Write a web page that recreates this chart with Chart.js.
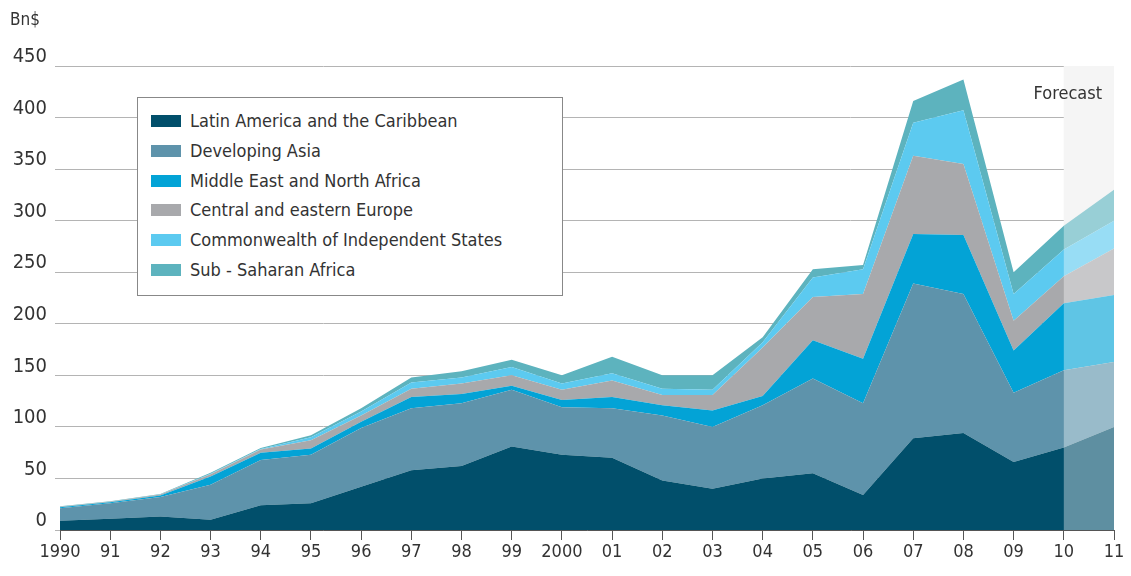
<!DOCTYPE html>
<html>
<head>
<meta charset="utf-8">
<script src="https://cdn.jsdelivr.net/npm/chart.js@4"></script>
<style>
  body { margin: 0; background: #fff; font-family: 'DejaVu Sans Condensed', 'DejaVu Sans', sans-serif; color: #333; }
  .wrap { position: relative; width: 1131px; height: 576px; }
  .unit { position: absolute; left: 10px; top: 9px; font-size: 17px; color: #333; }
  .forecast { position: absolute; right: 29px; top: 82px; font-size: 18px; color: #333; }
  .legend { position: absolute; left: 137px; top: 97px; width: 424px; height: 197px; border: 1px solid #888; background: #fff; }
  .legend div { position: absolute; left: 52px; font-size: 18px; line-height: 20px; white-space: nowrap; }
  .legend span { position: absolute; left: -39px; top: 4px; width: 30px; height: 12px; }
</style>
</head>
<body>
<div class="wrap">
  <canvas id="chart" width="1131" height="576"></canvas>
  <div class="unit">Bn$</div>
  <div class="forecast">Forecast</div>
  <div class="legend" id="legend"></div>
</div>
<script>
var years = ['1990','91','92','93','94','95','96','97','98','99','2000','01','02','03','04','05','06','07','08','09','10','11']

var latAm = [9,11,13,10,24,26,42,58,62,81,73,70,48,40,50,55,34,89,94,66,80,100]
var asia  = [12,15,19,34,44,47,57,60,61,55,46,48,63,60,71,92,89,150,135,67,75,63]
var mena  = [1,1,1.5,8,7,6,6,11,9,4,7,11,10,16,9,37,43,48,57,41,65,65]
var cee   = [0.5,0.5,1,2,3,8,6,8,10,10,10,16,10,15,47,42,63,76,69,29,26,45]
var cis   = [0,0,0,0.5,0.5,3,4,6,6,8,6,7,6,5,5,19,24,32,52,26,26,27]
var ssa   = [0.5,0.5,0.5,1,1,2,3,5,6,7,8,16,13,14,5,8,4,21,30,21,23,30]

var seriesNames = ['Latin America and the Caribbean','Developing Asia','Middle East and North Africa','Central and eastern Europe','Commonwealth of Independent States','Sub-Saharan Africa']
var legendNames = ['Latin America and the Caribbean','Developing Asia','Middle East and North Africa','Central and eastern Europe','Commonwealth of Independent States','Sub - Saharan Africa']
var seriesData = [latAm, asia, mena, cee, cis, ssa]
var colors = ['#014f6b','#5e93ab','#03a3d6','#a8a9ac','#5ccaf0','#5db3be']

var forecastFrom = 20  // index of '10'

// grey band behind the forecast years, white veil over the areas on top
var forecastBand = {
  id: 'forecastBand',
  beforeDatasetsDraw: function(chart){
    var ctx = chart.ctx, a = chart.chartArea
    var x0 = chart.scales.x.getPixelForValue(forecastFrom)
    ctx.save()
    ctx.fillStyle = '#efefef'
    ctx.fillRect(x0, a.top, a.right - x0, a.bottom - a.top)
    ctx.restore()
  },
  afterDatasetsDraw: function(chart){
    var ctx = chart.ctx, a = chart.chartArea
    var x0 = chart.scales.x.getPixelForValue(forecastFrom)
    ctx.save()
    ctx.fillStyle = 'rgba(255,255,255,0.37)'
    ctx.fillRect(x0, a.top, a.right - x0, a.bottom - a.top)
    ctx.restore()
  }
}

var datasets = []
for(let i=0 ; i<seriesData.length ; i++){
  datasets.push({
    label: seriesNames[i],
    data: seriesData[i],
    backgroundColor: colors[i],
    borderWidth: 0,
    pointRadius: 0,
    tension: 0,
    fill: i == 0 ? 'origin' : '-1'
  })
}

var ctx = document.getElementById('chart').getContext('2d');
var myChart = new Chart(ctx, {
  type: 'line',
  data: { labels: years, datasets: datasets },
  plugins: [forecastBand],
  options: {
    responsive: false,
    animation: false,
    layout: { padding: { top: 66, right: 17, left: 0, bottom: 0 } },
    plugins: { legend: { display: false }, tooltip: { enabled: false } },
    scales: {
      x: {
        offset: false,
        afterFit: function(s){ s.height = 46 },
        border: { display: true, color: '#555', width: 1 },
        grid: { drawOnChartArea: false, tickLength: 10, color: '#555' },
        ticks: { color: '#333', padding: 2, maxRotation: 0, autoSkip: false,
                 font: { family: "'DejaVu Sans Condensed', 'DejaVu Sans'", size: 18 } }
      },
      y: {
        stacked: true,
        min: 0, max: 450,
        afterFit: function(s){ s.width = 60 },
        border: { display: false },
        grid: { color: '#b4b4b4', tickLength: 5, lineWidth: 1 },
        ticks: { stepSize: 50, color: '#333', padding: 8, labelOffset: -9,
                 font: { family: "'DejaVu Sans Condensed', 'DejaVu Sans'", size: 20 } }
      }
    }
  }
});

// legend box built from the datasets
var legend = document.getElementById('legend')
for(let i=0 ; i<datasets.length ; i++){
  var row = document.createElement('div')
  row.style.top = (13 + i * 29.8) + 'px'
  row.innerHTML = '<span style="background:' + colors[i] + '"></span>' + legendNames[i]
  legend.appendChild(row)
}
</script>
</body>
</html>
